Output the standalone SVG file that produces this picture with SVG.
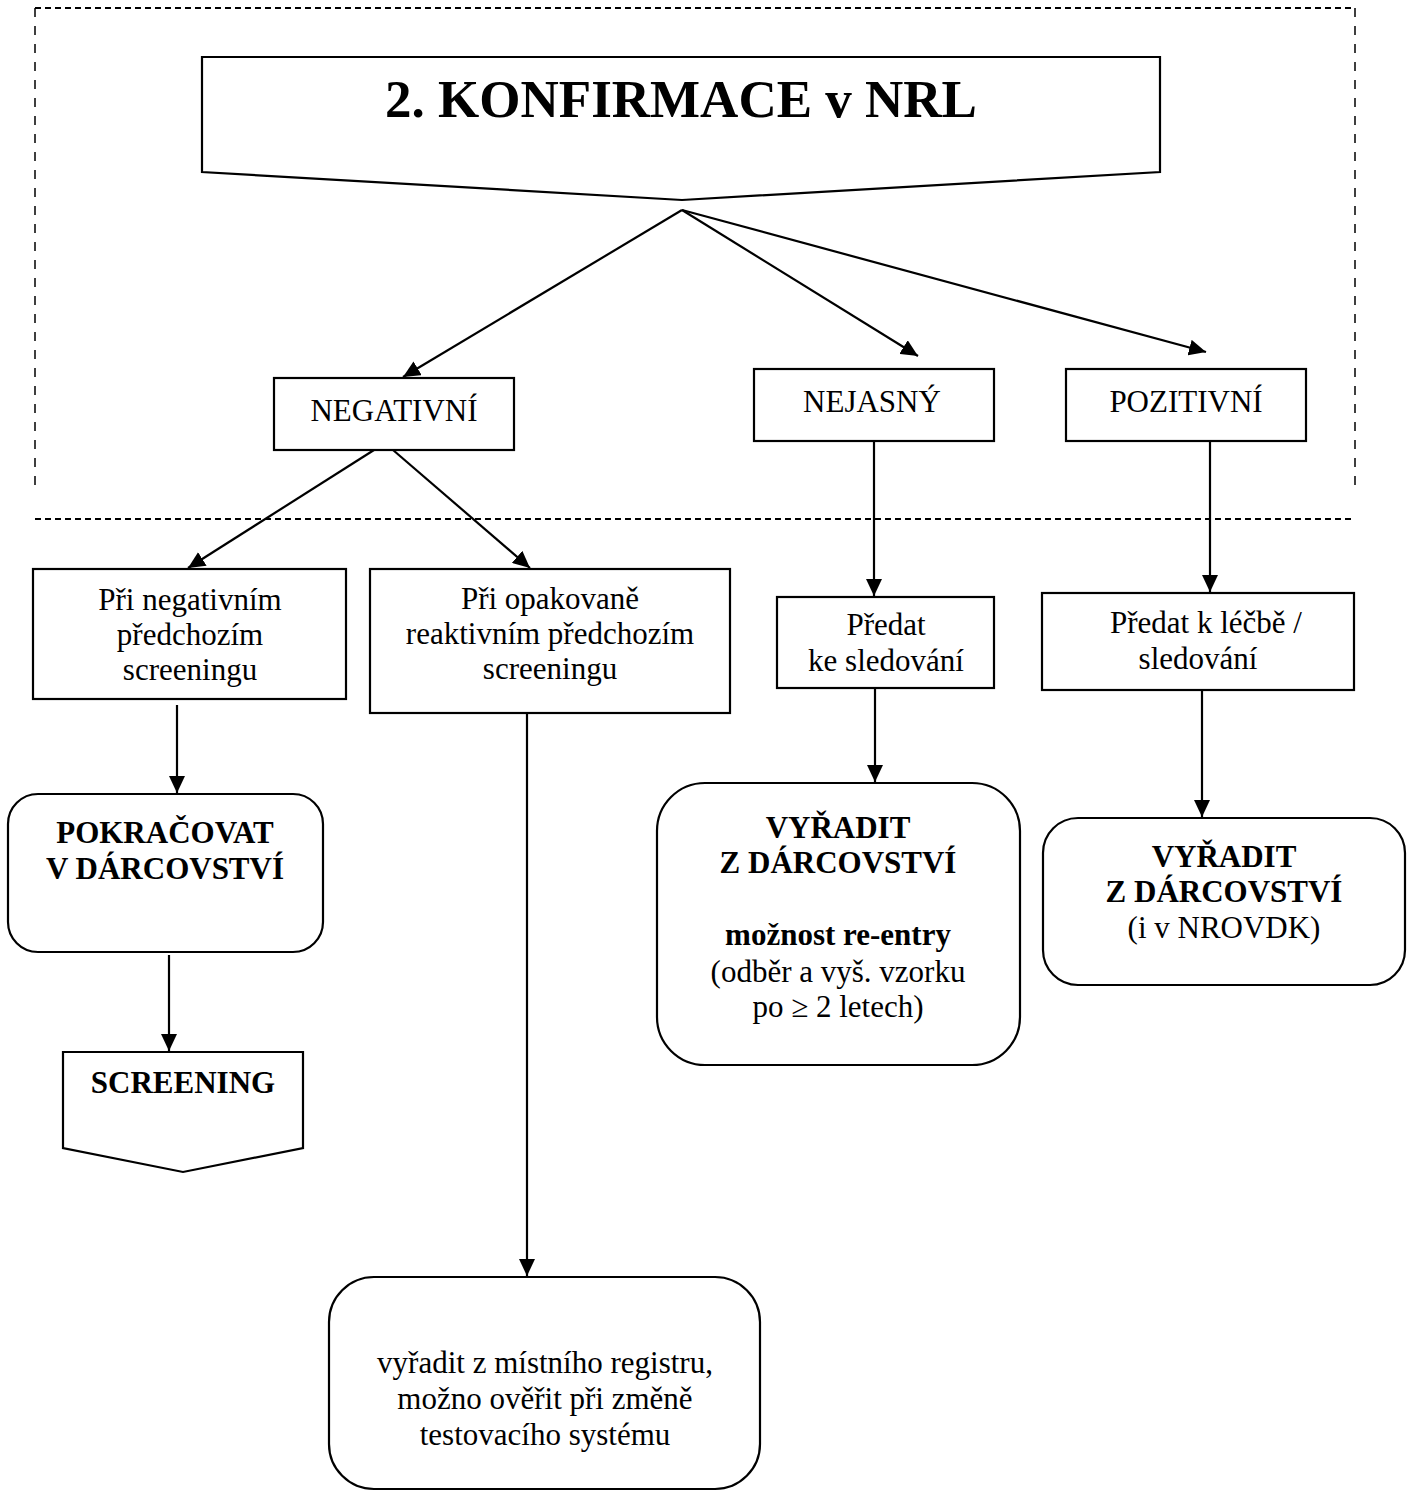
<svg xmlns="http://www.w3.org/2000/svg" width="1410" height="1493" viewBox="0 0 1410 1493">
<defs>
<marker id="arr" markerUnits="userSpaceOnUse" markerWidth="18" markerHeight="16" refX="17" refY="8" orient="auto">
<path d="M0,0 L17,8 L0,16 z" fill="#000"/>
</marker>
<style>
.box{fill:#fff;stroke:#000;stroke-width:2.2}
.t{font-family:"Liberation Serif","Times New Roman",serif;font-size:31px;fill:#000;text-anchor:middle}
.b{font-weight:bold}
.ln{stroke:#000;stroke-width:2.2;fill:none}
.dash{stroke:#000;stroke-width:2;fill:none;stroke-dasharray:6 4}
.dashv{stroke:#000;stroke-width:1.5;fill:none;stroke-dasharray:9 9}
</style>
</defs>
<rect width="1410" height="1493" fill="#fff"/>
<g id="frame">
<line class="dash" x1="35" y1="8" x2="1355" y2="8"/>
<line class="dashv" x1="35" y1="8" x2="35" y2="488"/>
<line class="dashv" x1="1355" y1="8" x2="1355" y2="488"/>
<line class="dash" x1="35" y1="519" x2="1355" y2="519"/>
</g>
<g id="connectors">
<line class="ln" x1="682" y1="210" x2="403" y2="377" marker-end="url(#arr)"/>
<line class="ln" x1="682" y1="210" x2="918" y2="356" marker-end="url(#arr)"/>
<line class="ln" x1="682" y1="210" x2="1206" y2="352" marker-end="url(#arr)"/>
<line class="ln" x1="374" y1="450" x2="188" y2="568" marker-end="url(#arr)"/>
<line class="ln" x1="393" y1="450" x2="530" y2="568" marker-end="url(#arr)"/>
<line class="ln" x1="874" y1="441" x2="874" y2="596" marker-end="url(#arr)"/>
<line class="ln" x1="1210" y1="441" x2="1210" y2="592" marker-end="url(#arr)"/>
<line class="ln" x1="177" y1="705" x2="177" y2="793" marker-end="url(#arr)"/>
<line class="ln" x1="169" y1="955" x2="169" y2="1051" marker-end="url(#arr)"/>
<line class="ln" x1="527" y1="713" x2="527" y2="1276" marker-end="url(#arr)"/>
<line class="ln" x1="875" y1="688" x2="875" y2="782" marker-end="url(#arr)"/>
<line class="ln" x1="1202" y1="690" x2="1202" y2="817" marker-end="url(#arr)"/>
</g>
<g id="title">
<polygon class="box" points="202,57 1160,57 1160,172 682,200 202,172"/>
<text class="t b" x="681" y="117" style="font-size:53px">2. KONFIRMACE v NRL</text>
</g>
<g id="negativni">
<rect class="box" x="274" y="378" width="240" height="72"/>
<text class="t" x="394" y="421">NEGATIVNÍ</text>
</g>
<g id="nejasny">
<rect class="box" x="754" y="369" width="240" height="72"/>
<text class="t" x="872" y="412">NEJASNÝ</text>
</g>
<g id="pozitivni">
<rect class="box" x="1066" y="369" width="240" height="72"/>
<text class="t" x="1186" y="412">POZITIVNÍ</text>
</g>
<g id="pri-negativnim">
<rect class="box" x="33" y="569" width="313" height="130"/>
<text class="t" x="190" y="610">Při negativním</text>
<text class="t" x="190" y="645">předchozím</text>
<text class="t" x="190" y="680">screeningu</text>
</g>
<g id="pri-opakovane">
<rect class="box" x="370" y="569" width="360" height="144"/>
<text class="t" x="550" y="609">Při opakovaně</text>
<text class="t" x="550" y="644">reaktivním předchozím</text>
<text class="t" x="550" y="679">screeningu</text>
</g>
<g id="predat-sledovani">
<rect class="box" x="777" y="597" width="217" height="91"/>
<text class="t" x="886" y="635">Předat</text>
<text class="t" x="886" y="671">ke sledování</text>
</g>
<g id="predat-lecbe">
<rect class="box" x="1042" y="593" width="312" height="97"/>
<text class="t" x="1206" y="633">Předat k léčbě /</text>
<text class="t" x="1198" y="669">sledování</text>
</g>
<g id="pokracovat">
<rect class="box" x="8" y="794" width="315" height="158" rx="30" ry="30"/>
<text class="t b" x="165" y="843">POKRAČOVAT</text>
<text class="t b" x="165" y="879">V DÁRCOVSTVÍ</text>
</g>
<g id="screening">
<polygon class="box" points="63,1052 303,1052 303,1148 183,1172 63,1148"/>
<text class="t b" x="183" y="1093">SCREENING</text>
</g>
<g id="vyradit-nejasny">
<rect class="box" x="657" y="783" width="363" height="282" rx="48" ry="48"/>
<text class="t b" x="838" y="838">VYŘADIT</text>
<text class="t b" x="838" y="873">Z DÁRCOVSTVÍ</text>
<text class="t b" x="838" y="945">možnost re-entry</text>
<text class="t" x="838" y="982">(odběr a vyš. vzorku</text>
<text class="t" x="838" y="1017">po ≥ 2 letech)</text>
</g>
<g id="vyradit-pozitivni">
<rect class="box" x="1043" y="818" width="362" height="167" rx="35" ry="35"/>
<text class="t b" x="1224" y="867">VYŘADIT</text>
<text class="t b" x="1224" y="902">Z DÁRCOVSTVÍ</text>
<text class="t" x="1224" y="938">(i v NROVDK)</text>
</g>
<g id="vyradit-registr">
<rect class="box" x="329" y="1277" width="431" height="212" rx="45" ry="45"/>
<text class="t" x="545" y="1373">vyřadit z místního registru,</text>
<text class="t" x="545" y="1409">možno ověřit při změně</text>
<text class="t" x="545" y="1445">testovacího systému</text>
</g>
</svg>
